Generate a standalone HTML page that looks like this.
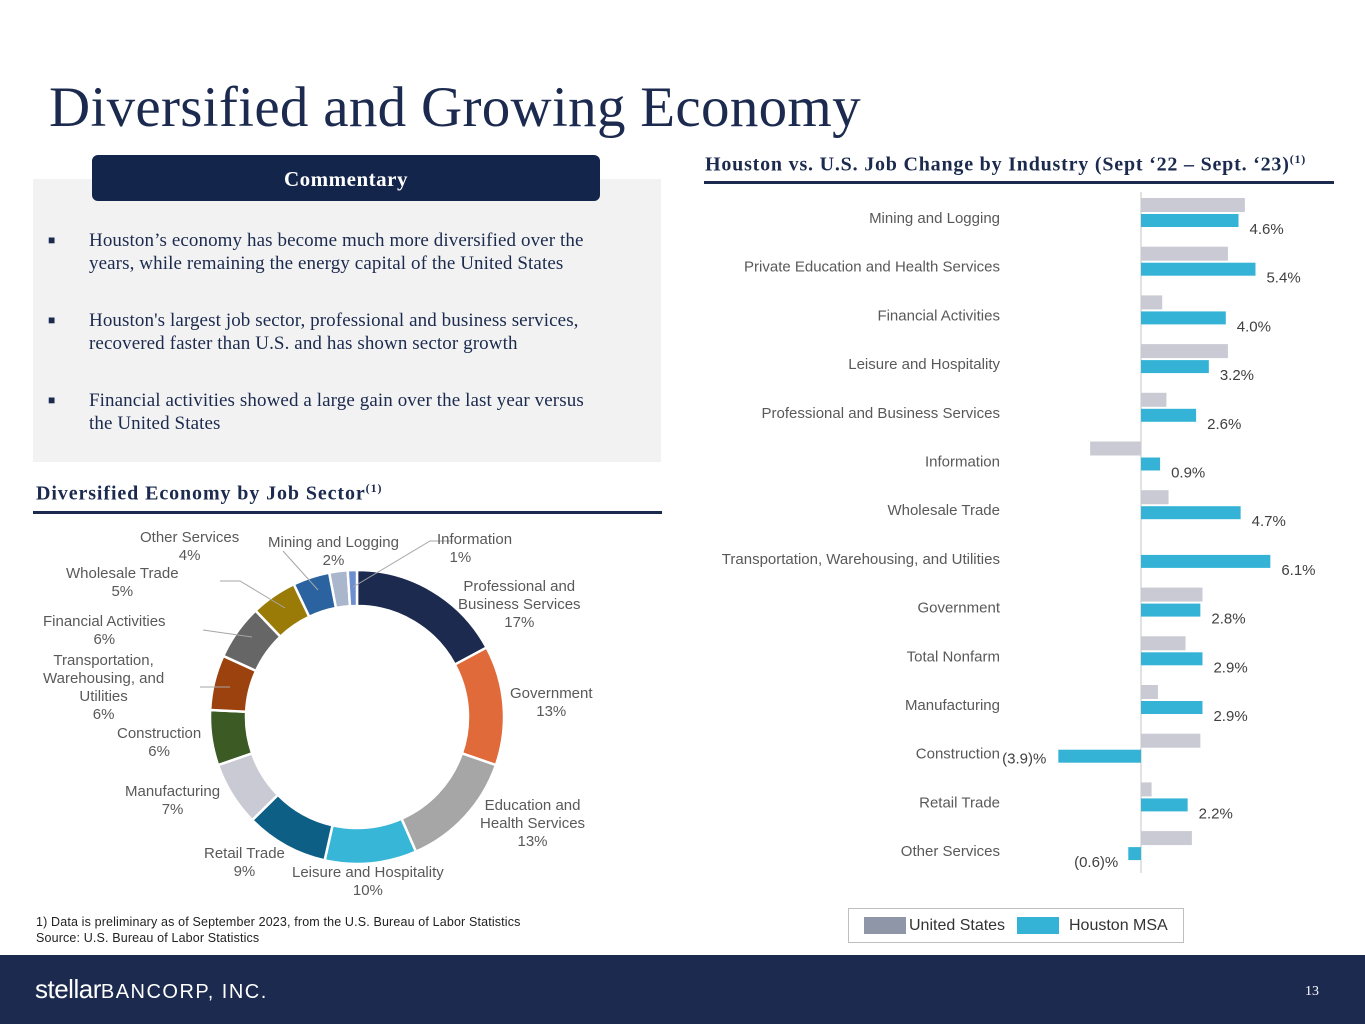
<!DOCTYPE html>
<html><head><meta charset="utf-8">
<style>
body{margin:0;width:1365px;height:1024px;position:relative;background:#fff;font-family:"Liberation Sans",sans-serif;overflow:hidden}
.abs{position:absolute}
.serif{font-family:"Liberation Serif",serif}
.lbl{position:absolute;font-size:15px;color:#595959;text-align:center;line-height:18px;white-space:nowrap}
</style></head><body>
<div class="abs serif" style="left:49px;top:75px;font-size:57px;color:#1b2a4e;letter-spacing:0.3px">Diversified and Growing Economy</div>

<div class="abs" style="left:33px;top:179px;width:628px;height:283px;background:#f2f2f2"></div>
<div class="abs serif" style="left:92px;top:155px;width:508px;height:46px;background:#13254a;border-radius:6px;color:#fff;font-weight:bold;font-size:21px;text-align:center;line-height:48px;letter-spacing:0.5px">Commentary</div>
<div class="abs serif" style="left:48px;top:229px;width:560px;font-size:19px;color:#1b2a4e;line-height:23px;letter-spacing:0.1px">
<div style="position:relative;padding-left:41px;margin-bottom:34px"><span style="position:absolute;left:0;font-size:12px">■</span>Houston’s economy has become much more diversified over the years, while remaining the energy capital of the United States</div>
<div style="position:relative;padding-left:41px;margin-bottom:34px"><span style="position:absolute;left:0;font-size:12px">■</span>Houston's largest job sector, professional and business services, recovered faster than U.S. and has shown sector growth</div>
<div style="position:relative;padding-left:41px"><span style="position:absolute;left:0;font-size:12px">■</span>Financial activities showed a large gain over the last year versus the United States</div>
</div>

<div class="abs serif" style="left:36px;top:481px;font-size:20px;font-weight:bold;color:#1b2a4e;letter-spacing:0.9px">Diversified Economy by Job Sector<sup style="font-size:12px">(1)</sup></div>
<div class="abs" style="left:33px;top:511px;width:629px;height:3px;background:#1b2a4e"></div>

<svg class="abs" style="left:0;top:0" width="700" height="950" id="donut"></svg>

<div class="lbl" style="left:437px;top:531px;text-align:left">Information<br>&nbsp;&nbsp;&nbsp;1%</div>
<div class="lbl" style="left:458px;top:578px">Professional and<br>Business Services<br>17%</div>
<div class="lbl" style="left:510px;top:685px">Government<br>13%</div>
<div class="lbl" style="left:480px;top:797px">Education and<br>Health Services<br>13%</div>
<div class="lbl" style="left:292px;top:864px">Leisure and Hospitality<br>10%</div>
<div class="lbl" style="left:204px;top:845px">Retail Trade<br>9%</div>
<div class="lbl" style="left:125px;top:783px">Manufacturing<br>7%</div>
<div class="lbl" style="left:117px;top:725px">Construction<br>6%</div>
<div class="lbl" style="left:43px;top:652px">Transportation,<br>Warehousing, and<br>Utilities<br>6%</div>
<div class="lbl" style="left:43px;top:613px">Financial Activities<br>6%</div>
<div class="lbl" style="left:66px;top:565px">Wholesale Trade<br>5%</div>
<div class="lbl" style="left:140px;top:529px">Other Services<br>4%</div>
<div class="lbl" style="left:268px;top:534px">Mining and Logging<br>2%</div>

<div class="abs" style="left:36px;top:914px;font-size:12.5px;color:#222;line-height:16px;letter-spacing:0.15px">1) Data is preliminary as of September 2023, from the U.S. Bureau of Labor Statistics<br>Source: U.S. Bureau of Labor Statistics</div>

<div class="abs serif" style="left:705px;top:152px;font-size:20px;font-weight:bold;color:#1b2a4e;letter-spacing:0.8px">Houston vs. U.S. Job Change by Industry (Sept ‘22 – Sept. ‘23)<sup style="font-size:12px">(1)</sup></div>
<div class="abs" style="left:704px;top:181px;width:630px;height:3px;background:#1b2a4e"></div>

<svg class="abs" style="left:0;top:0" width="1365" height="950" id="bars"></svg>

<div class="abs" style="left:848px;top:908px;width:334px;height:33px;border:1px solid #bfbfbf;font-size:16px;color:#333">
<div class="abs" style="left:15px;top:8px;width:42px;height:17px;background:#8e96a8"></div>
<div class="abs" style="left:60px;top:8px">United States</div>
<div class="abs" style="left:168px;top:8px;width:42px;height:17px;background:#35b3d6"></div>
<div class="abs" style="left:220px;top:8px">Houston MSA</div>
</div>

<div class="abs" style="left:0;top:955px;width:1365px;height:69px;background:#1b2a4e"></div>
<div class="abs" style="left:35px;top:974px;color:#fff;font-size:26px;letter-spacing:-0.5px">stellar<span style="font-size:20px;letter-spacing:1.5px">BANCORP, INC.</span></div>
<div class="abs serif" style="left:1305px;top:984px;color:#fff;font-size:14px">13</div>

<script>
const sectors=["Professional and Business Services","Government","Education and Health Services","Leisure and Hospitality","Retail Trade","Manufacturing","Construction","Transportation, Warehousing, and Utilities","Financial Activities","Wholesale Trade","Other Services","Mining and Logging","Information"];
const shares=[17,13,13,10,9,7,6,6,6,5,4,2,1];
const colors=["#1b2a4e","#e06a3a","#a6a6a6","#38b6d8","#0e5f86","#c9cad3","#3b5a24","#9c420e","#666666","#9a7b07","#2b63a0","#aab6cc","#6d8fcf"];
const NS="http://www.w3.org/2000/svg";
(function(){
 const svg=document.getElementById('donut');
 const cx=357,cy=717,R=147,r=111;
 const tot=shares.reduce((a,b)=>a+b,0);
 let a0=0;
 function pt(rad,a){return [cx+rad*Math.sin(a),cy-rad*Math.cos(a)];}
 shares.forEach((v,i)=>{
  const a1=a0+v/tot*2*Math.PI;
  const large=(a1-a0)>Math.PI?1:0;
  const p1=pt(R,a0),p2=pt(R,a1),p3=pt(r,a1),p4=pt(r,a0);
  const p=document.createElementNS(NS,'path');
  p.setAttribute('d',`M${p1}A${R},${R} 0 ${large} 1 ${p2}L${p3}A${r},${r} 0 ${large} 0 ${p4}Z`);
  p.setAttribute('fill',colors[i]);p.setAttribute('stroke','#fff');p.setAttribute('stroke-width','2.5');
  
  
  svg.appendChild(p);
  a0=a1;
 });
 const leaders=[[[453,541],[430,541],[353,587]],[[283,551],[318,590]],[[220,581],[240,581],[285,608]],[[203,630],[252,637]],[[200,687],[230,687]]];
 leaders.forEach(l=>{const pl=document.createElementNS(NS,'polyline');pl.setAttribute('points',l.map(p=>p.join(',')).join(' '));pl.setAttribute('fill','none');pl.setAttribute('stroke','#a6a6a6');pl.setAttribute('stroke-width','1');
 
 
 svg.appendChild(pl);});
})();

const industries=["Mining and Logging","Private Education and Health Services","Financial Activities","Leisure and Hospitality","Professional and Business Services","Information","Wholesale Trade","Transportation, Warehousing, and Utilities","Government","Total Nonfarm","Manufacturing","Construction","Retail Trade","Other Services"];
const usValues=[4.9,4.1,1.0,4.1,1.2,-2.4,1.3,0,2.9,2.1,0.8,2.8,0.5,2.4];
const houstonValues=[4.6,5.4,4.0,3.2,2.6,0.9,4.7,6.1,2.8,2.9,2.9,-3.9,2.2,-0.6];
const houstonLabels=["4.6%","5.4%","4.0%","3.2%","2.6%","0.9%","4.7%","6.1%","2.8%","2.9%","2.9%","(3.9)%","2.2%","(0.6)%"];
(function(){
 const svg=document.getElementById('bars');
 const x0=1141,k=21.2,top=198,pitch=48.7;
 const x=v=>x0+v*k;
 const ax=document.createElementNS(NS,'line');
 ax.setAttribute('x1',x0);ax.setAttribute('x2',x0);ax.setAttribute('y1',192);ax.setAttribute('y2',873);ax.setAttribute('stroke','#d9d9d9');ax.setAttribute('stroke-width','1.5');
 
 
 svg.appendChild(ax);
 industries.forEach((name,i)=>{
  const y=top+i*pitch;
  const t=document.createElementNS(NS,'text');
  t.setAttribute('x',1000);t.setAttribute('y',y+25);t.setAttribute('text-anchor','end');
  t.setAttribute('font-size','15');t.setAttribute('fill','#595959');t.setAttribute('font-family','Liberation Sans, sans-serif');
  t.textContent=name;
  
  
  svg.appendChild(t);
  const u=usValues[i];
  if(u!==0){const r=document.createElementNS(NS,'rect');
   r.setAttribute('x',Math.min(x(u),x0));r.setAttribute('y',y);r.setAttribute('width',Math.abs(x(u)-x0));r.setAttribute('height',14);r.setAttribute('fill','#c9cad3');
   
   
   svg.appendChild(r);}
  const h=houstonValues[i];
  const b=document.createElementNS(NS,'rect');
  b.setAttribute('x',Math.min(x(h),x0));b.setAttribute('y',y+16);b.setAttribute('width',Math.abs(x(h)-x0));b.setAttribute('height',13);b.setAttribute('fill','#35b3d6');
  
  
  svg.appendChild(b);
  const l=document.createElementNS(NS,'text');
  l.setAttribute('y',y+36);l.setAttribute('font-size','15');l.setAttribute('fill','#404040');l.setAttribute('font-family','Liberation Sans, sans-serif');
  if(h>=0){l.setAttribute('x',x(h)+11);}else{l.setAttribute('x',x(h)-10);l.setAttribute('text-anchor','end');}
  if(h<-1){l.setAttribute('y',y+30);l.setAttribute('x',x(h)-12);}
  l.textContent=houstonLabels[i];
  
  
  svg.appendChild(l);
 });
})();
</script>
</body></html>
